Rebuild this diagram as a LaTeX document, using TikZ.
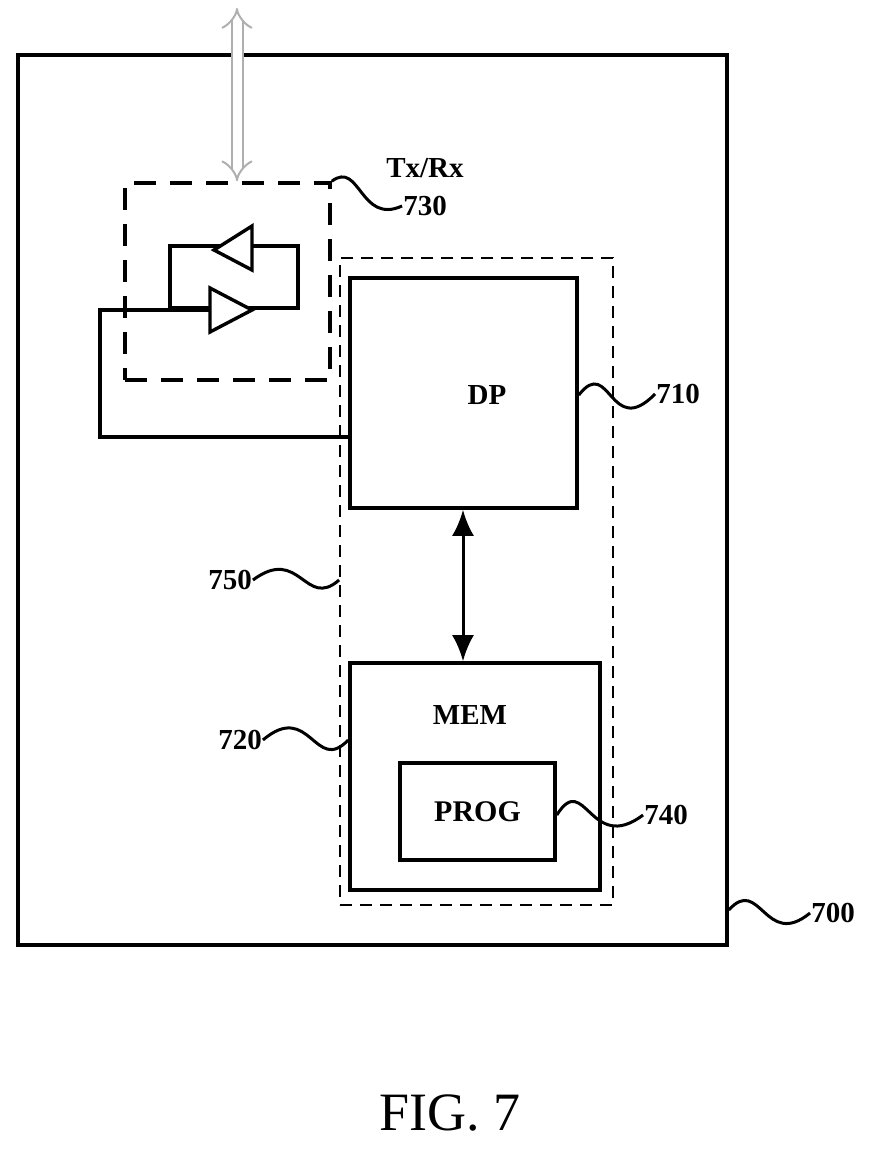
\documentclass[tikz,border=0pt]{standalone}
\usepackage{fontspec}
\setmainfont{Liberation Serif}
\usetikzlibrary{arrows.meta, positioning, calc}
\definecolor{patentGray}{RGB}{175, 175, 175}

\tikzset{
  blk/.style={draw, line width=3.6pt, inner sep=0pt, font=\bfseries\fontsize{30}{32}\selectfont},
  dashblk/.style={draw, line width=3.6pt, dash pattern=on 22pt off 14pt},
  thindash/.style={draw, line width=1.8pt, dash pattern=on 12pt off 8pt},
  lbl/.style={font=\bfseries\fontsize{29}{31}\selectfont, inner sep=1pt},
  squig/.style={line width=3pt},
}

\begin{document}
\begin{tikzpicture}[x=1pt, y=-1pt]
  \useasboundingbox (0,0) rectangle (880,1154);

  % outer unit and blocks
  \node[draw, line width=3.6pt, minimum width=709pt, minimum height=890pt] (unit) at (372.5,500) {};
  \node[thindash, minimum width=273pt, minimum height=647pt] (grp) at (476.5,581.5) {};
  \node[blk, minimum width=227pt, minimum height=230pt] (dp) at (463.5,393) {};
  \node[lbl] at (487,395) {DP};
  \node[blk, minimum width=250pt, minimum height=227pt] (mem) at (475,776.5) {};
  \node[lbl] at (470,715) {MEM};
  \node[blk, minimum width=155pt, minimum height=97pt] (prog) at (477.5,811.5) {PROG};
  \node[dashblk, minimum width=205pt, minimum height=197pt] (trx) at (227.5,281.5) {};

  % tx/rx loop
  \coordinate (lt) at (170,246);
  \coordinate (rb) at (298,308);
  \draw[line width=3.6pt] (lt) rectangle (rb);
  \draw[line width=3.4pt, fill=white] (252,226) -- (252,270) -- (214,250) -- cycle;
  \draw[line width=3.4pt, fill=white] (210,288) -- (210,332) -- (252,310) -- cycle;
  \draw[line width=3.6pt] (210,310) -| (100,437) -- (dp.west |- 0,437);

  % connectors
  \coordinate (ant) at (237,8);
  \draw[patentGray, double=white, double distance=9pt, line width=2pt,
        {Implies[]}-{Implies[]}] (ant) -- (trx.north -| ant);
  \draw[{Latex[length=26pt,width=22pt]}-{Latex[length=26pt,width=22pt]}, line width=3pt]
    (dp.south -| 463,0) -- (mem.north -| 463,0);

  % reference labels
  \node[lbl] (txrx) at (425,168) {Tx/Rx};
  \node[lbl] (n730) at (425,206) {730};
  \node[lbl] (n710) at (678,394) {710};
  \node[lbl] (n750) at (230,580) {750};
  \node[lbl] (n720) at (240,740) {720};
  \node[lbl] (n740) at (666,815) {740};
  \node[lbl] (n700) at (833,913) {700};
  \draw[squig] (trx.north east) .. controls (360,160) and (360,225) .. (n730.west);
  \draw[squig] (dp.east |- 0,395) .. controls (610,355) and (610,440) .. (n710.west);
  \draw[squig] (n750.east) .. controls (300,545) and (305,610) .. (grp.west |- 0,580);
  \draw[squig] (n720.east) .. controls (310,700) and (315,775) .. (mem.west |- 0,740);
  \draw[squig] (prog.east |- 0,815) .. controls (585,770) and (590,855) .. (n740.west);
  \draw[squig] (unit.east |- 0,910) .. controls (760,875) and (765,950) .. (n700.west);

  \node[font=\fontsize{54}{58}\selectfont] (fig) at (450,1113) {FIG. 7};
\end{tikzpicture}
\end{document}
